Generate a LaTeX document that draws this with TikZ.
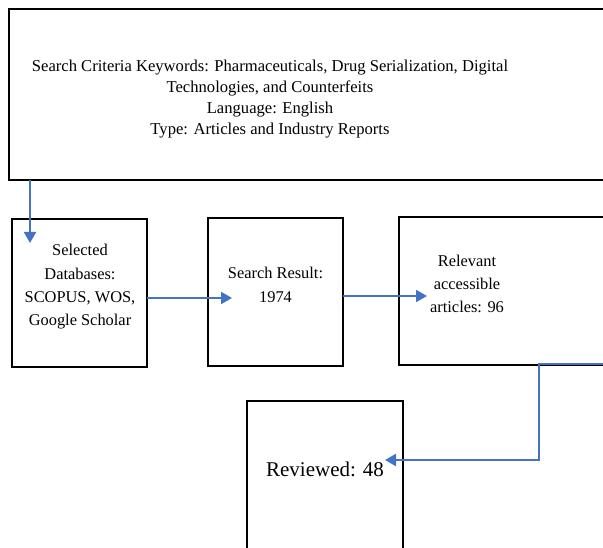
\documentclass[tikz,border=0pt]{standalone}
\usepackage{fontspec}
\setmainfont{Liberation Serif}
\usetikzlibrary{arrows.meta,calc}
\definecolor{arrowblue}{HTML}{4472C4}
\tikzset{
  boxshape/.style={draw=black, line width=1.8pt, rectangle, anchor=north west, inner sep=0pt, outer sep=0pt},
  boxtext/.style={align=center, inner sep=0pt, font=\fontsize{16.4}{23.3}\selectfont},
  toptext/.style={align=center, inner sep=0pt, font=\fontsize{16.6}{21}\selectfont},
  flow/.style={draw=arrowblue, line width=2pt, -{Triangle[length=11pt,width=12pt]}}
}
\begin{document}
\begin{tikzpicture}[x=1pt,y=-1pt]
\useasboundingbox (0,0) rectangle (603,548);
\clip (0,0) rectangle (603,548);
\fill[white] (0,0) rectangle (603,548);
\node[boxshape, line width=1.6pt, minimum width=620pt, minimum height=171pt] (top) at (9,9) {};
\node[toptext] (toptxt) at (270,99) {Search Criteria Keywords: Pharmaceuticals, Drug Serialization, Digital\\Technologies, and Counterfeits\\Language: English\\Type: Articles and Industry Reports};
\node[boxshape, minimum width=135pt, minimum height=148pt] (b1) at (12,219) {};
\node[boxtext] (b1txt) at (80,287) {Selected\\Databases:\\SCOPUS, WOS,\\Google Scholar};
\node[boxshape, minimum width=135pt, minimum height=148pt] (b2) at (208,218) {};
\node[boxtext] (b2txt) at (275.5,285) {Search Result:\\1974};
\node[boxshape, minimum width=300pt, minimum height=148pt] (b3) at (399,217) {};
\node[boxtext] (b3txt) at (467,284) {Relevant\\accessible\\articles: 96};
\node[boxshape, minimum width=156pt, minimum height=200pt] (b4) at (247,401) {};
\node[boxtext, font=\fontsize{21}{25}\selectfont] (b4txt) at (325,469) {Reviewed: 48};
\coordinate (e0) at (30,243);
\coordinate (e1) at (232,298);
\coordinate (e2) at (427,296);
\coordinate (e3) at (385,460);
\coordinate (k1) at (539,364);
\coordinate (k2) at (539,460);
\coordinate (s3) at (k1 -| b3.east);
\draw[flow] ($(top.south west)+(21,0)$) -- (e0);
\draw[flow] (b1.east |- e1) -- (e1);
\draw[flow] (b2.east |- e2) -- (e2);
\draw[flow] (s3) -- (k1) -- (k2) -- (e3);
\end{tikzpicture}
\end{document}
